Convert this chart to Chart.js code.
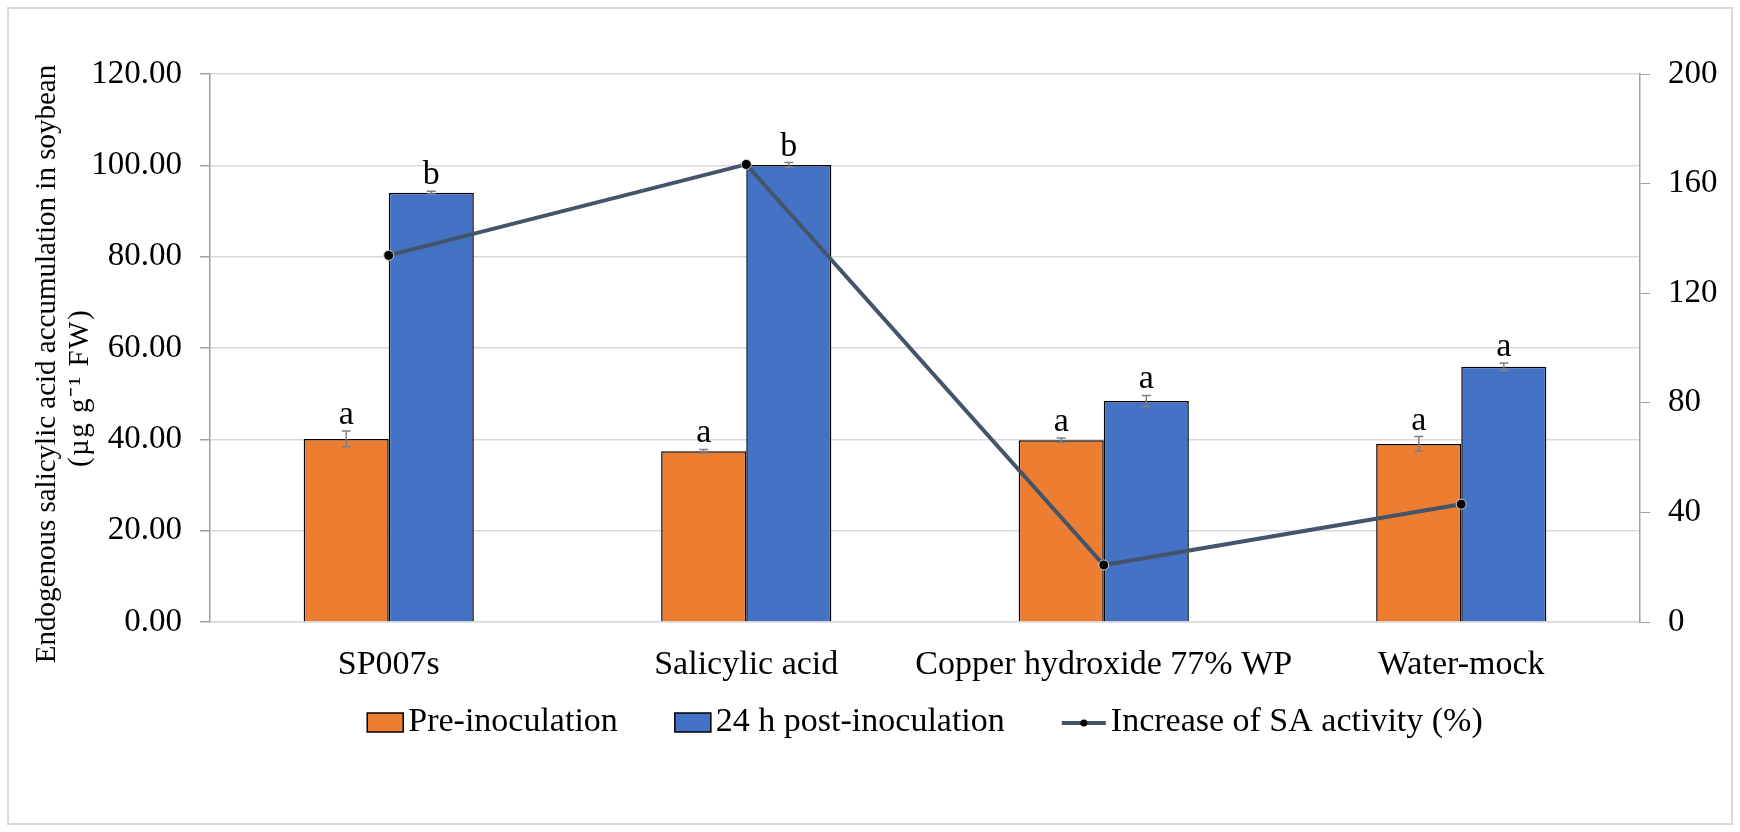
<!DOCTYPE html>
<html><head><meta charset="utf-8">
<script src="https://cdn.jsdelivr.net/npm/chart.js@4.4.0/dist/chart.umd.min.js"></script>
<style>html,body{margin:0;padding:0;background:#fff;}#wrap{width:1740px;height:832px;}</style>
</head><body><div id="wrap"><canvas id="c" width="1740" height="832"></canvas></div>
<script>
const categories = ['SP007s', 'Salicylic acid', 'Copper hydroxide 77% WP', 'Water-mock'];
const preInoculation = [40.1, 37.4, 39.8, 39.0];
const preError = [1.7, 0.4, 0.5, 1.6];
const postInoculation = [94.0, 100.1, 48.4, 55.9];
const postError = [0.3, 0.5, 1.2, 0.8];
const saIncrease = [133.8, 167.0, 20.8, 43.0];
const preLetters = ['a', 'a', 'a', 'a'];
const postLetters = ['b', 'b', 'a', 'a'];
const leftTicks = [0, 20, 40, 60, 80, 100, 120];
const rightTicks = [0, 40, 80, 120, 160, 200];
const seriesNames = ['Pre-inoculation', '24 h post-inoculation', 'Increase of SA activity (%)'];
const yTitle = ['Endogenous salicylic acid accumulation in soybean', '(\u00b5g g\u207b\u00b9 FW)'];

const FONT = "'Liberation Serif', 'Times New Roman', serif";
const ORANGE = '#ED7D31', BLUE = '#4472C4', LINE = '#44546A';

const errorBars = {
  id: 'errorBars',
  afterDatasetDraw(chart, args) {
    const ds = chart.data.datasets[args.index];
    if (!ds.errors) return;
    const y = chart.scales.y, ctx = chart.ctx;
    ctx.save();
    ctx.strokeStyle = '#808080'; ctx.lineWidth = 1.5;
    args.meta.data.forEach((bar, i) => {
      const v = ds.data[i], e = ds.errors[i];
      const yt = y.getPixelForValue(v + e), yb = y.getPixelForValue(v - e);
      const x = bar.x;
      ctx.beginPath();
      ctx.moveTo(x, yt); ctx.lineTo(x, yb);
      ctx.moveTo(x - 4.5, yt); ctx.lineTo(x + 4.5, yt);
      ctx.moveTo(x - 4.5, yb); ctx.lineTo(x + 4.5, yb);
      ctx.stroke();
    });
    ctx.restore();
  }
};

const letters = {
  id: 'letters',
  afterDatasetsDraw(chart) {
    const ctx = chart.ctx, y = chart.scales.y;
    ctx.save();
    ctx.font = '34px ' + FONT; ctx.fillStyle = '#000';
    ctx.textAlign = 'center'; ctx.textBaseline = 'alphabetic';
    chart.data.datasets.forEach((ds, di) => {
      if (!ds.letters) return;
      chart.getDatasetMeta(di).data.forEach((bar, i) => {
        const top = y.getPixelForValue(ds.data[i] + ds.errors[i]);
        ctx.fillText(ds.letters[i], bar.x, top - 7);
      });
    });
    ctx.restore();
  }
};

const frameTitleLegend = {
  id: 'frameTitleLegend',
  beforeDraw(chart) {
    const ctx = chart.ctx;
    ctx.save();
    ctx.fillStyle = '#fff'; ctx.fillRect(0, 0, chart.width, chart.height);
    ctx.strokeStyle = '#d9d9d9'; ctx.lineWidth = 2;
    ctx.strokeRect(8, 8, chart.width - 16, chart.height - 16);
    ctx.restore();
  },
  afterDraw(chart) {
    const ctx = chart.ctx, ca = chart.chartArea;
    ctx.save();
    // rotated y-axis title
    const midY = (ca.top + ca.bottom) / 2;
    ctx.font = '29px ' + FONT; ctx.fillStyle = '#000';
    ctx.textAlign = 'center'; ctx.textBaseline = 'middle';
    [[47, midY + 16, '0px'], [80, midY + 40, '1.5px']].forEach((p, i) => {
      ctx.save();
      ctx.letterSpacing = p[2];
      ctx.translate(p[0], p[1]); ctx.rotate(-Math.PI / 2);
      ctx.fillText(yTitle[i], 0, 0);
      ctx.restore();
    });
    // legend
    ctx.font = '34px ' + FONT;
    const symW = 36, symGap = 5, itemGap = 57, lineExtra = 8;
    const widths = seriesNames.map((n, i) => symW + symGap + (i === 2 ? lineExtra : 0) + ctx.measureText(n).width);
    const total = widths.reduce((a, b) => a + b, 0) + itemGap * (seriesNames.length - 1);
    let x = (ca.left + ca.right) / 2 - total / 2;
    const cy = 722;
    seriesNames.forEach((name, i) => {
      let sw = symW;
      if (i < 2) {
        ctx.fillStyle = i === 0 ? ORANGE : BLUE;
        ctx.fillRect(x, cy - 9, symW, 19);
        ctx.strokeStyle = '#000'; ctx.lineWidth = 1.5;
        ctx.strokeRect(x, cy - 9, symW, 19);
      } else {
        sw = symW + lineExtra;
        ctx.strokeStyle = LINE; ctx.lineWidth = 4;
        ctx.beginPath(); ctx.moveTo(x, cy + 1); ctx.lineTo(x + sw, cy + 1); ctx.stroke();
        ctx.fillStyle = '#000';
        ctx.beginPath(); ctx.arc(x + sw / 2, cy + 1, 3.5, 0, Math.PI * 2); ctx.fill();
      }
      ctx.fillStyle = '#000'; ctx.textAlign = 'left'; ctx.textBaseline = 'middle';
      ctx.fillText(name, x + sw + symGap, cy);
      x += widths[i] + itemGap;
    });
    ctx.restore();
  }
};

new Chart(document.getElementById('c'), {
  type: 'bar',
  data: {
    labels: categories,
    datasets: [
      { label: seriesNames[0], data: preInoculation, errors: preError, letters: preLetters,
        backgroundColor: ORANGE, borderColor: '#000', borderWidth: 1.5, yAxisID: 'y', order: 2,
        categoryPercentage: 0.476, barPercentage: 1.0 },
      { label: seriesNames[1], data: postInoculation, errors: postError, letters: postLetters,
        backgroundColor: BLUE, borderColor: '#000', borderWidth: 1.5, yAxisID: 'y', order: 2,
        categoryPercentage: 0.476, barPercentage: 1.0 },
      { type: 'line', label: seriesNames[2], data: saIncrease, yAxisID: 'y1', order: 0,
        borderColor: LINE, borderWidth: 4, pointRadius: 5, pointBackgroundColor: '#000',
        pointBorderColor: '#cfcfcf', pointBorderWidth: 1, tension: 0, fill: false }
    ]
  },
  options: {
    responsive: false, devicePixelRatio: 1, animation: false,
    layout: { padding: { top: 74, left: 0, right: 0, bottom: 0 } },
    plugins: { legend: { display: false }, tooltip: { enabled: false } },
    scales: {
      x: {
        grid: { display: false, drawTicks: false },
        border: { display: true, color: '#d9d9d9', width: 1.5 },
        ticks: { color: '#000', font: { family: FONT, size: 34 }, padding: 23, maxRotation: 0, autoSkip: false },
        afterFit(s) { s.height = 210; }
      },
      y: {
        position: 'left', min: 0, max: 120,
        afterBuildTicks(s) { s.ticks = leftTicks.map(v => ({ value: v })); },
        grid: { color: '#d9d9d9', lineWidth: 1.5, tickLength: 10, tickColor: '#a0a0a0' },
        border: { display: true, color: '#a0a0a0', width: 1.5 },
        ticks: { color: '#000', font: { family: FONT, size: 33 }, padding: 18, callback: v => Number(v).toFixed(2) },
        afterFit(s) { s.width = 210; }
      },
      y1: {
        position: 'right', min: 0, max: 200,
        afterBuildTicks(s) { s.ticks = rightTicks.map(v => ({ value: v })); },
        grid: { drawOnChartArea: false, tickLength: 10, tickColor: '#a0a0a0' },
        border: { display: true, color: '#a0a0a0', width: 1.5 },
        ticks: { color: '#000', font: { family: FONT, size: 33 }, padding: 18, callback: v => String(v) },
        afterFit(s) { s.width = 100; }
      }
    }
  },
  plugins: [errorBars, letters, frameTitleLegend]
});
</script></body></html>
